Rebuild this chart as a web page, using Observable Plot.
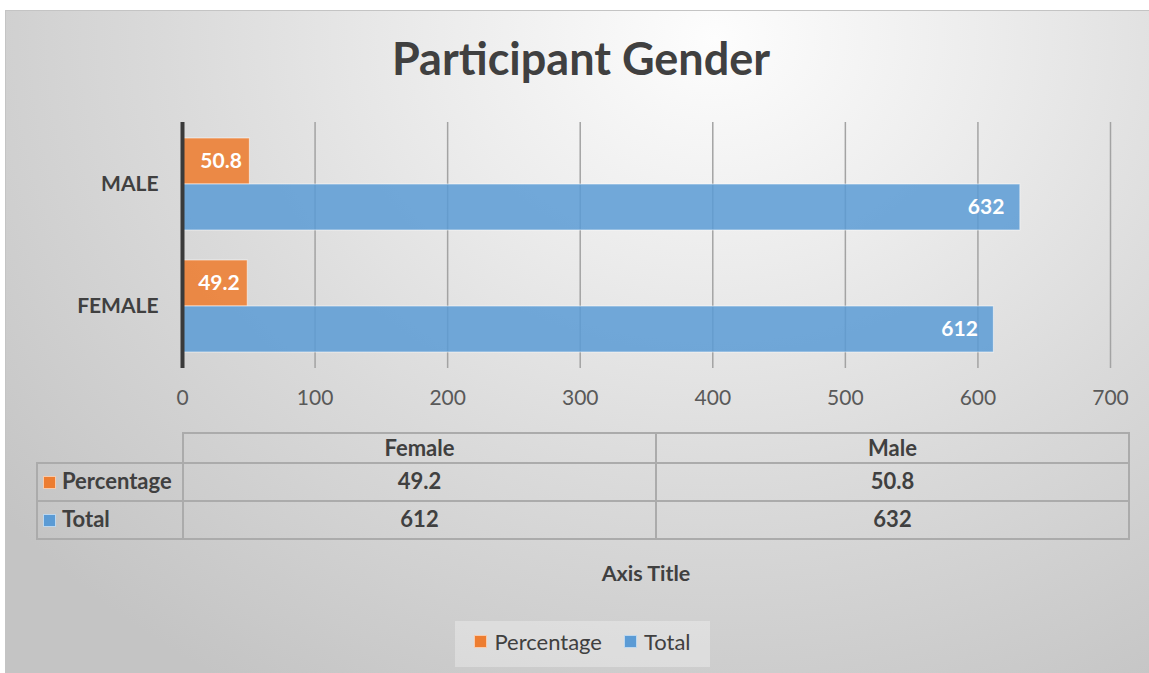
<!DOCTYPE html>
<html>
<head>
<meta charset="utf-8">
<script src="https://cdn.jsdelivr.net/npm/d3@7"></script>
<script src="https://cdn.jsdelivr.net/npm/@observablehq/plot@0.6"></script>
<style>
  html, body { margin: 0; padding: 0; background: #ffffff; overflow: hidden; }
  #page { position: relative; width: 1149px; height: 673px; font-family: Lato, "Open Sans", sans-serif; color: #404040; }
  #frame { position: absolute; left: 5px; top: 10px; width: 1144px; height: 663px;
    border-top: 1px solid #c4c4c4; border-left: 1px solid #c4c4c4; box-sizing: border-box;
    background: radial-gradient(ellipse 80% 115% at 62% 4%, #fdfdfd 0%, #ececec 30%, #dadada 60%, #c4c4c4 100%); }
  #title { position: absolute; left: 5px; width: 1152px; top: 36px; text-align: center;
    font-size: 45px; line-height: 45px; font-weight: 700; color: #404040; white-space: nowrap; }
  #plot { position: absolute; left: 0; top: 0; }
  #table { position: absolute; left: 36px; top: 432px; border-collapse: collapse; table-layout: fixed; }
  #table td { border: 2px solid #ababab; padding: 0 0 3px 0; font-size: 22px; font-weight: 700; color: #404040; text-align: center; white-space: nowrap; }
  #table tr.hdr td { padding-bottom: 1px; }
  #table td.corner { border-top: hidden; border-left: hidden; }
  #table td.rowhead { text-align: left; padding-left: 5px; }
  .sw { display: inline-block; width: 13px; height: 13px; margin-right: 6px; vertical-align: 0px; box-sizing: border-box; border: 1px solid rgba(255,255,255,0.6); }
  #axistitle { position: absolute; left: 182px; width: 928px; top: 563px; text-align: center; font-size: 21.5px; line-height: 21.5px; font-weight: 700; color: #404040; }
  #legend { position: absolute; left: 455px; top: 621px; width: 255px; height: 46px; box-sizing: border-box; padding-bottom: 5px; background: rgba(255,255,255,0.3);
    display: flex; align-items: center; justify-content: center; gap: 22px; font-size: 22px; color: #404040; }
  #legend .item { display: flex; align-items: center; }
  #legend .sw { width: 13px; height: 13px; margin-right: 7px; }
</style>
</head>
<body>
<div id="page">
  <div id="frame"></div>
  <div id="title"></div>
  <div id="plot"></div>
  <table id="table"></table>
  <div id="axistitle"></div>
  <div id="legend"></div>
</div>
<script>
// ---- data ----
const chartTitle = "Participant Gender";
const genders = ["Female", "Male"];          // data-table column order
const percentage = [49.2, 50.8];
const total = [612, 632];
const seriesNames = ["Percentage", "Total"];
const seriesColors = ["#ED7D31", "#5B9BD5"];
const xTicks = [0, 100, 200, 300, 400, 500, 600, 700];
const axisTitle = "Axis Title";

// ---- derived tables ----
const barCategories = genders.map(g => g.toUpperCase()).reverse(); // MALE on top
const pctRows = genders.map((g, i) => ({category: g.toUpperCase(), series: seriesNames[0], value: percentage[i]}));
const totRows = genders.map((g, i) => ({category: g.toUpperCase(), series: seriesNames[1], value: total[i]}));

document.getElementById("title").textContent = chartTitle;
document.getElementById("axistitle").textContent = axisTitle;

const chart = Plot.plot({
  width: 1149,
  height: 420,
  marginLeft: 182,
  marginRight: 39,
  marginTop: 122,
  marginBottom: 52,
  style: {background: "transparent", fontFamily: "Lato, 'Open Sans', sans-serif", overflow: "visible"},
  x: {domain: [0, 700], axis: null},
  y: {domain: barCategories, paddingInner: 30 / 122, paddingOuter: 16 / 122, axis: null},
  marks: [
    Plot.ruleX(xTicks.filter(t => t > 0), {stroke: "#a3a3a3", strokeWidth: 1.5}),
    Plot.barX(pctRows, {x: "value", y: "category", fill: seriesColors[0], fillOpacity: 0.88,
      stroke: "#ffffff", strokeOpacity: 0.55, strokeWidth: 1, insetBottom: 46}),
    Plot.barX(totRows, {x: "value", y: "category", fill: seriesColors[1], fillOpacity: 0.85,
      stroke: "#ffffff", strokeOpacity: 0.55, strokeWidth: 1, insetTop: 46}),
    Plot.ruleX([0], {stroke: "#3a3a3a", strokeWidth: 4}),
    Plot.axisX({ticks: xTicks, tickSize: 0, tickPadding: 22, fontSize: 21, color: "#595959", label: null, tickFormat: d => String(d)}),
    Plot.axisY({tickSize: 0, tickPadding: 24, fontSize: 21, fontWeight: "bold", color: "#404040", label: null}),
    Plot.text(pctRows, {x: "value", y: "category", text: d => d.value.toFixed(1), dy: -23, dx: -8,
      textAnchor: "end", fill: "#ffffff", fontSize: 21, fontWeight: "bold"}),
    Plot.text(totRows, {x: "value", y: "category", text: d => String(d.value), dy: 23, dx: -16,
      textAnchor: "end", fill: "#ffffff", fontSize: 21, fontWeight: "bold"})
  ]
});
document.getElementById("plot").appendChild(chart);

// ---- data table ----
const table = document.getElementById("table");
const colgroup = document.createElement("colgroup");
[146, 473, 473].forEach(w => { const c = document.createElement("col"); c.style.width = w + "px"; colgroup.appendChild(c); });
table.appendChild(colgroup);
const head = document.createElement("tr");
head.className = "hdr";
head.style.height = "30px";
const corner = document.createElement("td"); corner.className = "corner"; head.appendChild(corner);
genders.forEach(g => { const td = document.createElement("td"); td.textContent = g; head.appendChild(td); });
table.appendChild(head);
[percentage, total].forEach((vals, si) => {
  const tr = document.createElement("tr");
  tr.style.height = "38px";
  const th = document.createElement("td"); th.className = "rowhead";
  const sw = document.createElement("span"); sw.className = "sw"; sw.style.background = seriesColors[si];
  th.appendChild(sw); th.appendChild(document.createTextNode(seriesNames[si]));
  tr.appendChild(th);
  vals.forEach(v => { const td = document.createElement("td"); td.textContent = si === 0 ? v.toFixed(1) : String(v); tr.appendChild(td); });
  table.appendChild(tr);
});

// ---- legend ----
const legend = document.getElementById("legend");
seriesNames.forEach((s, i) => {
  const item = document.createElement("div"); item.className = "item";
  const sw = document.createElement("span"); sw.className = "sw"; sw.style.background = seriesColors[i];
  item.appendChild(sw); item.appendChild(document.createTextNode(s));
  legend.appendChild(item);
});
</script>
</body>
</html>
